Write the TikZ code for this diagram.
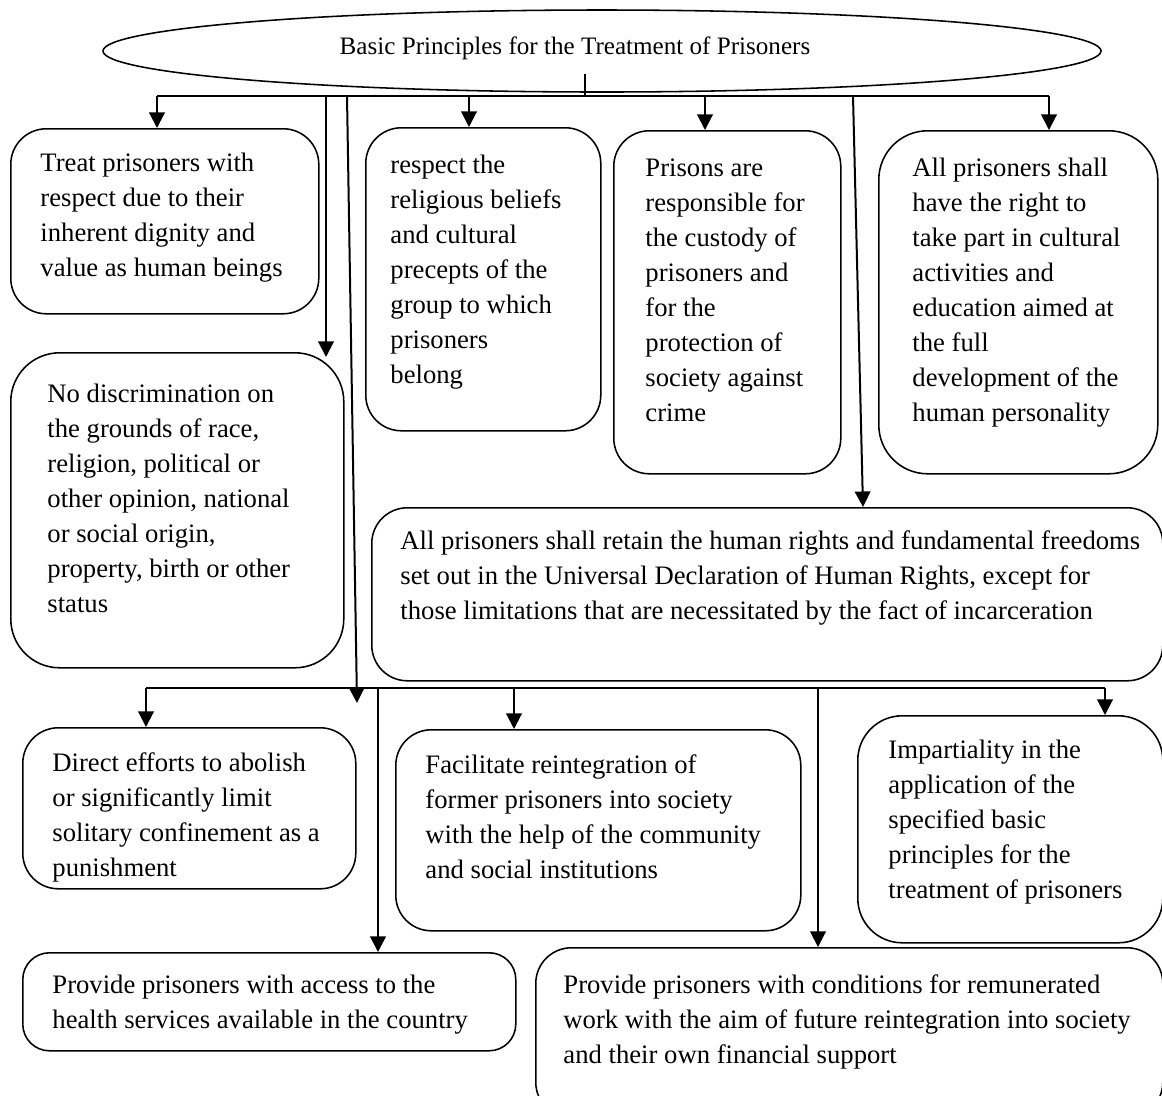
\documentclass[tikz,border=0pt]{standalone}
\usepackage{fontspec}
\setmainfont{Liberation Serif}
\usetikzlibrary{shapes.geometric,arrows.meta,positioning}
\newdimen\pxu \pxu=0.45pt

\tikzset{
  card/.style={draw, line width=0.7pt, rounded corners=16pt, anchor=north west, inner sep=0pt},
  cardtext/.style={anchor=north west, inner sep=0pt, align=left, font=\fontsize{12}{15.75}\selectfont},
  feed/.style={-{Triangle[width=7pt,length=7pt]}, line width=0.9pt},
  bus/.style={line width=0.9pt}
}

\begin{document}
\begin{tikzpicture}[x=0.45pt, y=-0.45pt]
  \path[use as bounding box, clip] (0,0) rectangle (1162,1095);

  % title
  \node[draw, ellipse, line width=0.7pt, minimum width=998*\pxu, minimum height=82*\pxu] (title) at (602,51) {};
  \node[font=\fontsize{11.3}{13}\selectfont] (titletext) at (575,48) {Basic Principles for the Treatment of Prisoners};

  % upper cards
  \node[card, minimum width=308*\pxu, minimum height=185*\pxu] (treat) at (10,128) {};
  \node[card, rounded corners=22pt, minimum width=333*\pxu, minimum height=315*\pxu] (nodiscr) at (10,352) {};
  \node[card, minimum width=235*\pxu, minimum height=303*\pxu] (belief) at (365,127) {};
  \node[card, minimum width=227*\pxu, minimum height=343*\pxu] (custody) at (613,130) {};
  \node[card, rounded corners=22pt, minimum width=279*\pxu, minimum height=343*\pxu] (culture) at (878,130) {};
  \node[card, minimum width=791*\pxu, minimum height=173*\pxu] (rights) at (371,507) {};

  % lower cards
  \node[card, minimum width=333*\pxu, minimum height=161*\pxu] (solitary) at (22,727) {};
  \node[card, minimum width=405*\pxu, minimum height=201*\pxu] (reinteg) at (395,729) {};
  \node[card, rounded corners=20pt, minimum width=305*\pxu, minimum height=227*\pxu] (impartial) at (857,715) {};
  \node[card, rounded corners=12pt, minimum width=493*\pxu, minimum height=98*\pxu] (health) at (22,952) {};
  \node[card, minimum width=627*\pxu, minimum height=170*\pxu] (work) at (535,947) {};

  % card texts
  \node[cardtext] (treattext) at ([shift={(30,25)}]treat.north west) {Treat prisoners with\\respect due to their\\inherent dignity and\\value as human beings};
  \node[cardtext] (nodiscrtext) at ([shift={(37,32)}]nodiscr.north west) {No discrimination on\\the grounds of race,\\religion, political or\\other opinion, national\\or social origin,\\property, birth or other\\status};
  \node[cardtext] (belieftext) at ([shift={(25,28)}]belief.north west) {respect the\\religious beliefs\\and cultural\\precepts of the\\group to which\\prisoners\\belong};
  \node[cardtext] (custodytext) at ([shift={(32,28)}]custody.north west) {Prisons are\\responsible for\\the custody of\\prisoners and\\for the\\protection of\\society against\\crime};
  \node[cardtext] (culturetext) at ([shift={(34,28)}]culture.north west) {All prisoners shall\\have the right to\\take part in cultural\\activities and\\education aimed at\\the full\\development of the\\human personality};
  \node[cardtext] (rightstext) at ([shift={(29,23)}]rights.north west) {All prisoners shall retain the human rights and fundamental freedoms\\set out in the Universal Declaration of Human Rights, except for\\those limitations that are necessitated by the fact of incarceration};
  \node[cardtext] (solitarytext) at ([shift={(30,25)}]solitary.north west) {Direct efforts to abolish\\or significantly limit\\solitary confinement as a\\punishment};
  \node[cardtext] (reintegtext) at ([shift={(30,25)}]reinteg.north west) {Facilitate reintegration of\\former prisoners into society\\with the help of the community\\and social institutions};
  \node[cardtext] (impartialtext) at ([shift={(31,25)}]impartial.north west) {Impartiality in the\\application of the\\specified basic\\principles for the\\treatment of prisoners};
  \node[cardtext] (healthtext) at ([shift={(30,23)}]health.north west) {Provide prisoners with access to the\\health services available in the country};
  \node[cardtext] (worktext) at ([shift={(28,27)}]work.north west) {Provide prisoners with conditions for remunerated\\work with the aim of future reintegration into society\\and their own financial support};

  % top bus
  \coordinate (stub) at (585,74);
  \coordinate (topbus) at (585,96);
  \coordinate (topleft) at (157,96);
  \coordinate (topright) at (1049,96);
  \coordinate (drop2) at (326,96);
  \coordinate (drop2end) at (326,357);
  \coordinate (drop3) at (347,96);
  \coordinate (drop3end) at (357,703);
  \coordinate (drop4) at (469,96);
  \coordinate (drop5) at (705,96);
  \coordinate (drop6) at (853,96);
  \draw[bus] (stub) -- (topbus);
  \draw[bus] (topleft) -- (topright);
  \draw[feed] (topleft) -- (topleft |- treat.north);
  \draw[feed] (drop2) -- (drop2end);
  \draw[feed] (drop3) -- (drop3end);
  \draw[feed] (drop4) -- (drop4 |- belief.north);
  \draw[feed] (drop5) -- (drop5 |- custody.north);
  \draw[feed] (drop6) -- (rights.north -| 863,0);
  \draw[feed] (topright) -- (topright |- culture.north);

  % middle bus
  \coordinate (midleft) at (146,688);
  \coordinate (midright) at (1105,688);
  \coordinate (mid3) at (378,688);
  \coordinate (mid4) at (514,688);
  \coordinate (mid5) at (818,688);
  \draw[bus] (midleft) -- (midright);
  \draw[feed] (midleft) -- (midleft |- solitary.north);
  \draw[feed] (mid3) -- (mid3 |- health.north);
  \draw[feed] (mid4) -- (mid4 |- reinteg.north);
  \draw[feed] (mid5) -- (mid5 |- work.north);
  \draw[feed] (midright) -- (midright |- impartial.north);
\end{tikzpicture}
\end{document}
